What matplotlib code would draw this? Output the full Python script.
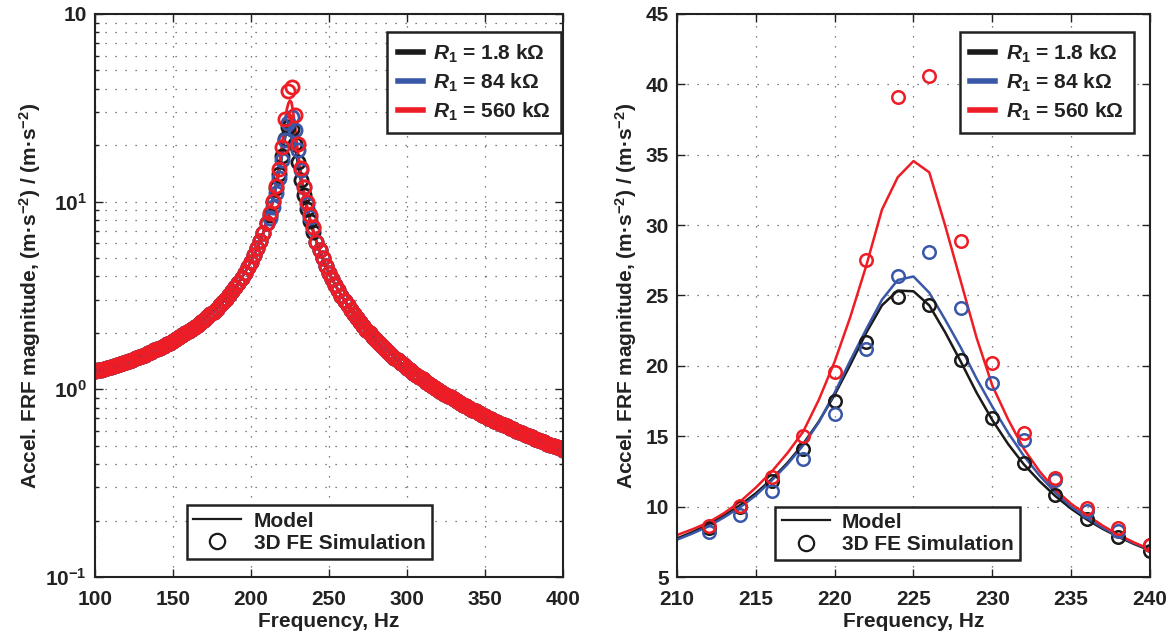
import numpy as np
import matplotlib
matplotlib.use('Agg')
import matplotlib.pyplot as plt
from matplotlib.lines import Line2D
from matplotlib.ticker import FixedLocator, FixedFormatter, LogLocator, NullFormatter

plt.rcParams['font.family'] = ['Liberation Sans', 'DejaVu Sans']
plt.rcParams['font.weight'] = 'bold'
plt.rcParams['mathtext.fontset'] = 'custom'
plt.rcParams['mathtext.rm'] = 'Liberation Sans:bold'
plt.rcParams['mathtext.it'] = 'Liberation Sans:italic:bold'
plt.rcParams['mathtext.bf'] = 'Liberation Sans:bold'

# --- data ---
# FE sweep, off resonance the three resistors give the same curve
fe_freq_lo = np.arange(100, 212, 2)   # 100 .. 210 Hz
fe_base_lo = [1.249, 1.261, 1.275, 1.288, 1.303, 1.318, 1.333, 1.349, 1.366, 1.384,
              1.402, 1.421, 1.442, 1.462, 1.484, 1.507, 1.531, 1.556, 1.583, 1.611,
              1.640, 1.670, 1.703, 1.737, 1.772, 1.810, 1.850, 1.893, 1.938, 1.985,
              2.036, 2.091, 2.148, 2.210, 2.277, 2.348, 2.424, 2.507, 2.597, 2.694,
              2.800, 2.917, 3.044, 3.185, 3.341, 3.514, 3.708, 3.928, 4.177, 4.461,
              4.791, 5.177, 5.632, 6.179, 6.846, 7.670]
fe_freq_hi = np.arange(242, 402, 2)   # 242 .. 400 Hz
fe_base_hi = [6.123, 5.500, 4.987, 4.557, 4.191, 3.878, 3.606, 3.367, 3.156, 2.968,
              2.801, 2.650, 2.514, 2.390, 2.277, 2.174, 2.078, 1.990, 1.909, 1.834,
              1.764, 1.698, 1.637, 1.580, 1.526, 1.476, 1.428, 1.383, 1.341, 1.301,
              1.263, 1.227, 1.193, 1.160, 1.129, 1.100, 1.071, 1.044, 1.019, 0.994,
              0.970, 0.948, 0.926, 0.905, 0.885, 0.866, 0.847, 0.829, 0.812, 0.795,
              0.779, 0.764, 0.749, 0.734, 0.720, 0.707, 0.694, 0.681, 0.669, 0.657,
              0.645, 0.634, 0.623, 0.613, 0.603, 0.593, 0.583, 0.574, 0.564, 0.555,
              0.547, 0.538, 0.530, 0.522, 0.514, 0.507, 0.499, 0.492, 0.485, 0.478]

# FE points around resonance (212 .. 240 Hz)
fe_freq_pk = np.arange(212, 242, 2)
fe_r18 = [8.5, 10.0, 11.8, 14.1, 17.5, 21.7, 24.9, 24.3, 20.4, 16.3, 13.1, 10.8, 9.1, 7.85, 6.87]
fe_r84 = [8.2, 9.4, 11.1, 13.4, 16.6, 21.2, 26.4, 28.1, 24.1, 18.8, 14.7, 11.9, 9.7, 8.3, 7.25]
fe_r560 = [8.65, 10.05, 12.1, 15.0, 19.6, 27.5, 39.1, 40.6, 28.9, 20.2, 15.2, 12.0, 9.9, 8.45, 7.3]

# model around resonance, 1 Hz steps (210 .. 240 Hz)
model_freq = np.arange(210, 241, 1)
model_r18 = [7.74, 8.2, 8.75, 9.38, 10.1, 10.95, 11.95, 13.1, 14.45, 16.05, 17.95, 20.1,
             22.35, 24.3, 25.35, 25.3, 24.3, 22.4, 20.3, 18.1, 16.15, 14.45, 13.0, 11.8,
             10.75, 9.85, 9.08, 8.42, 7.85, 7.34, 6.89]
model_r84 = [7.65, 8.1, 8.6, 9.25, 9.95, 10.8, 11.85, 13.0, 14.35, 16.0, 18.1, 20.4,
             22.6, 24.7, 26.1, 26.35, 25.2, 23.3, 21.3, 19.1, 17.1, 15.25, 13.6, 12.2,
             11.0, 10.0, 9.2, 8.5, 7.9, 7.4, 6.95]
model_r560 = [7.98, 8.4, 8.88, 9.55, 10.35, 11.35, 12.48, 13.8, 15.32, 17.6, 20.3, 23.5,
              27.1, 31.1, 33.4, 34.55, 33.75, 30.0, 26.0, 22.0, 18.6, 16.2, 14.1, 12.5,
              11.2, 10.2, 9.4, 8.65, 8.0, 7.45, 6.97]

labels = [r'$R_1$ = 1.8 kΩ', r'$R_1$ = 84 kΩ', r'$R_1$ = 560 kΩ']
colors = ['#1a1a1a', '#3957a7', '#ee1d25']
fe_pk = [fe_r18, fe_r84, fe_r560]
model_pk = [model_r18, model_r84, model_r560]

txt = '#222222'
fs = 15
grid_kw = dict(color='#555555', linestyle=(0, (1, 7)), linewidth=0.9)


def style_axes(ax):
    for s in ax.spines.values():
        s.set_linewidth(1.5)
        s.set_color('#222222')
    ax.tick_params(which='both', direction='in', top=True, right=True,
                   labelsize=fs, colors=txt, width=1.0)
    ax.tick_params(which='major', length=6)
    ax.tick_params(which='minor', length=3)
    ax.tick_params(axis='x', pad=9)
    ax.tick_params(axis='y', pad=6)


def add_legends(ax, upper_anchor, lower_anchor):
    hs = [Line2D([], [], color=c, lw=4) for c in colors]
    leg1 = ax.legend(hs, labels, loc='upper right', bbox_to_anchor=upper_anchor,
                     borderaxespad=0, fancybox=False, edgecolor='#222222', framealpha=1,
                     handlelength=1.2, handletextpad=0.5, labelspacing=0.32, borderpad=0.5,
                     prop={'size': fs, 'weight': 'bold'})
    leg1.get_frame().set_linewidth(1.8)
    for t in leg1.get_texts():
        t.set_color(txt)
    ax.add_artist(leg1)
    hs2 = [Line2D([], [], color='#1a1a1a', lw=1.6),
           Line2D([], [], color='#1a1a1a', marker='o', ms=11, mfc='none', mew=1.6, ls='none')]
    leg2 = ax.legend(hs2, ['Model', '3D FE Simulation'], loc='lower left',
                     bbox_to_anchor=lower_anchor, borderaxespad=0, fancybox=False,
                     edgecolor='#222222', framealpha=1, handlelength=2.3, handletextpad=0.6,
                     labelspacing=0.15, borderpad=0.3, prop={'size': fs, 'weight': 'bold'})
    leg2.get_frame().set_linewidth(1.8)
    for t in leg2.get_texts():
        t.set_color(txt)


fig = plt.figure(figsize=(11.68, 6.35), dpi=100)
ax1 = fig.add_axes([0.0813, 0.0913, 0.4007, 0.8867])
ax2 = fig.add_axes([0.5796, 0.0913, 0.4050, 0.8867])

# left: full sweep, log scale
fe_all_x = np.concatenate([fe_freq_lo, fe_freq_pk, fe_freq_hi])
model_all_x = np.concatenate([fe_freq_lo[:-1], model_freq, fe_freq_hi])
for c, fp, mp in zip(colors, fe_pk, model_pk):
    ax1.plot(model_all_x, np.concatenate([fe_base_lo[:-1], mp, fe_base_hi]), color=c, lw=2)
for c, fp in zip(colors, fe_pk):
    ax1.plot(fe_all_x, np.concatenate([fe_base_lo, fp, fe_base_hi]), ls='none', marker='o',
             ms=9.5, mfc='none', mec=c, mew=2)
ax1.set_yscale('log')
ax1.set_xlim(100, 400)
ax1.set_ylim(0.1, 100)
ax1.set_xticks(range(100, 401, 50))
ax1.yaxis.set_major_locator(FixedLocator([0.1, 1, 10, 100]))
ax1.yaxis.set_major_formatter(FixedFormatter([r'$10^{-1}$', r'$10^{0}$', r'$10^{1}$', '10']))
ax1.yaxis.set_minor_locator(LogLocator(base=10, subs=np.arange(2, 10)))
ax1.yaxis.set_minor_formatter(NullFormatter())
ax1.grid(True, which='major', **grid_kw)
ax1.grid(True, which='minor', axis='y', **grid_kw)
style_axes(ax1)
add_legends(ax1, (0.996, 0.968), (0.197, 0.032))

# right: zoom on the resonance
for c, fp, mp in zip(colors, fe_pk, model_pk):
    ax2.plot(model_freq, mp, color=c, lw=1.8)
for c, fp in zip(colors, fe_pk):
    ax2.plot(fe_freq_pk, fp, ls='none', marker='o', ms=9, mfc='none', mec=c, mew=1.8)
ax2.set_xlim(210, 240)
ax2.set_ylim(5, 45)
ax2.set_xticks(range(210, 241, 5))
ax2.set_yticks(range(5, 46, 5))
ax2.grid(True, which='major', **grid_kw)
style_axes(ax2)
add_legends(ax2, (0.966, 0.968), (0.208, 0.030))

ylab = 'Accel. FRF magnitude, (m·s$^{-2}$) / (m·s$^{-2}$)'
for ax, lx in [(ax1, -0.112), (ax2, -0.080)]:
    ax.set_xlabel('Frequency, Hz', fontsize=fs, fontweight='bold', color=txt)
    ax.set_ylabel(ylab, fontsize=fs, fontweight='bold', color=txt)
    ax.xaxis.set_label_coords(0.5, -0.062)
    ax.yaxis.set_label_coords(lx, 0.5)

fig.savefig('out.png', dpi=100)
